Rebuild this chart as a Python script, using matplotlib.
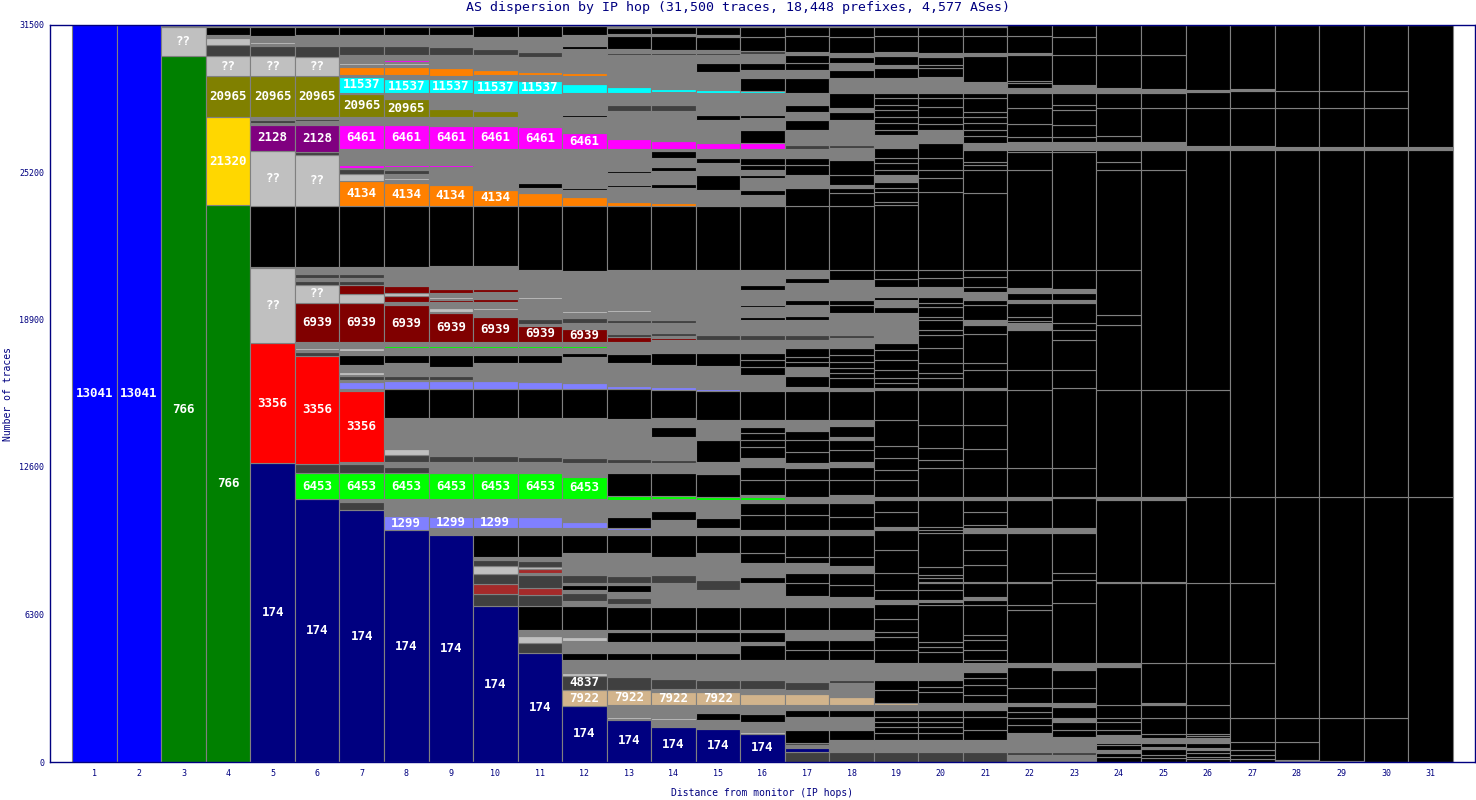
import numpy as np
import matplotlib
matplotlib.use('Agg')
import matplotlib.pyplot as plt

plt.rcParams['font.family'] = ['DejaVu Sans Mono']

# colour codes used in the stacks
palette = {
    'B': '#0000FF', 'g': '#008000', 'Y': '#FFD700', 'O': '#808000',
    'L': '#C0C0C0', 'D': '#404040', 'G': '#808080', 'K': '#000000',
    'N': '#000080', 'R': '#FF0000', 'M': '#800000', 'P': '#800080',
    'm': '#FF00FF', 'c': '#00FFFF', 'o': '#FF8000', 'l': '#00FF00',
    'p': '#8080FF', 't': '#D2B48C', 'r': '#A52A2A',
}

hops = list(range(1, 32))

# each hop: (cumulative top in traces, colour code[, AS label]) from bottom to top
hop1 = [(31500, 'B', '13041')]
hop2 = [(31500, 'B', '13041')]
hop3 = [(30153, 'g', '766'), (31405, 'L', '??'), (31500, 'G')]
hop4 = [(23789, 'g', '766'), (27535, 'Y', '21320'), (29299, 'O', '20965'), (30153, 'L', '??'),
        (30623, 'D'), (30935, 'L'), (31064, 'G'), (31405, 'K'), (31500, 'G')]
hop5 = [(12770, 'N', '174'), (17883, 'R', '3356'), (21086, 'L', '??'), (21141, 'l'), (23760, 'K'),
        (26109, 'L', '??'), (27206, 'P', '2128'), (27290, 'G'), (27420, 'D'), (27535, 'G'),
        (29299, 'O', '20965'), (30153, 'L', '??'), (30593, 'D'), (30680, 'G'), (30751, 'L'),
        (31007, 'G'), (31405, 'K'), (31500, 'G')]
hop6 = [(11220, 'N', '174'), (12330, 'l', '6453'), (12728, 'D'), (17353, 'R', '3356'), (17524, 'D'),
        (17597, 'G'), (17682, 'L'), (17725, 'l'), (17925, 'G'), (19617, 'M', '6939'), (20373, 'L', '??'),
        (20544, 'D'), (20672, 'G'), (20842, 'D'), (21154, 'G'), (23760, 'K'), (25925, 'L', '??'),
        (26066, 'D'), (27206, 'P', '2128'), (27377, 'G'), (27484, 'D'), (27535, 'G'),
        (29299, 'O', '20965'), (30123, 'L', '??'), (30593, 'D'), (31050, 'G'), (31405, 'K'), (31500, 'G')]
hop7 = [(10763, 'N', '174'), (11105, 'D'), (11233, 'G'), (12330, 'l', '6453'), (12728, 'D'), (12813, 'G'),
        (15845, 'R', '3356'), (15918, 'G'), (16243, 'p'), (16315, 'G'), (16486, 'D'), (16528, 'G'),
        (16670, 'L'), (16956, 'G'), (17383, 'K'), (17447, 'R'), (17554, 'G'), (17669, 'L'), (17725, 'l'),
        (17951, 'G'), (19604, 'M', '6939'), (19988, 'L'), (20373, 'M'), (20544, 'D'), (20672, 'G'),
        (20842, 'D'), (21154, 'G'), (23760, 'K'), (24815, 'o', '4134'), (25113, 'L'), (25314, 'D'),
        (25382, 'G'), (25498, 'm'), (26169, 'G'), (27206, 'm', '6461'), (27548, 'G'),
        (28530, 'O', '20965'), (28586, 'G'), (29269, 'c', '11537'), (29342, 'G'), (29671, 'o'),
        (29757, 'G'), (29842, 'L'), (29940, 'G'), (29982, 'm'), (30196, 'G'), (30593, 'D'),
        (31050, 'G'), (31405, 'K'), (31500, 'G')]
hop8 = [(9909, 'N', '174'), (10507, 'p', '1299'), (11233, 'G'), (12330, 'l', '6453'), (12600, 'D'),
        (12813, 'G'), (13112, 'D'), (13368, 'L'), (14692, 'G'), (15918, 'K'), (16272, 'p'), (16315, 'G'),
        (16498, 'D'), (17041, 'G'), (17383, 'K'), (17700, 'G'), (17760, 'l'), (17951, 'G'),
        (19518, 'M', '6939'), (19660, 'G'), (19903, 'M'), (20018, 'L'), (20343, 'M'), (21140, 'G'),
        (23760, 'K'), (24716, 'o', '4134'), (24857, 'G'), (24957, 'L'), (25113, 'G'), (25284, 'D'),
        (25400, 'G'), (25497, 'm'), (26167, 'G'), (27207, 'm', '6461'), (27548, 'G'),
        (28317, 'O', '20965'), (28573, 'G'), (29158, 'c', '11537'), (29342, 'G'), (29671, 'o'),
        (29769, 'G'), (29842, 'L'), (29910, 'G'), (29982, 'm'), (30196, 'G'), (30593, 'D'),
        (31050, 'G'), (31405, 'K'), (31500, 'G')]
hop9 = [(9695, 'N', '174'), (9980, 'G'), (10477, 'p', '1299'), (11233, 'G'), (12330, 'l', '6453'),
        (12813, 'G'), (13070, 'D'), (13155, 'G'), (13210, 'L'), (14692, 'G'), (15918, 'K'), (16272, 'p'),
        (16315, 'G'), (16498, 'D'), (16883, 'G'), (17383, 'K'), (17700, 'G'), (17760, 'l'), (17951, 'G'),
        (19162, 'M', '6939'), (19205, 'G'), (19391, 'L'), (19660, 'G'), (19732, 'M'), (19760, 'G'),
        (19875, 'L'), (20045, 'G'), (20188, 'M'), (21184, 'G'), (23760, 'K'), (24644, 'o', '4134'),
        (25400, 'G'), (25497, 'm'), (26167, 'G'), (27178, 'm', '6461'), (27548, 'G'), (27890, 'O'),
        (28573, 'G'), (29158, 'c', '11537'), (29300, 'G'), (29626, 'o'), (30196, 'G'), (30550, 'D'),
        (31050, 'G'), (31405, 'K'), (31500, 'G')]
hop10 = [(6663, 'N', '174'), (7175, 'D'), (7602, 'r'), (8029, 'D'), (8371, 'L'), (8627, 'D'), (8770, 'G'),
         (9695, 'K'), (9980, 'G'), (10477, 'p', '1299'), (11233, 'G'), (12330, 'l', '6453'), (12813, 'G'),
         (13070, 'D'), (14692, 'G'), (15918, 'K'), (16272, 'p'), (17041, 'G'), (17383, 'K'), (17700, 'G'),
         (17760, 'l'), (17951, 'G'), (19020, 'M', '6939'), (19305, 'G'), (19391, 'L'), (19660, 'G'),
         (19760, 'M'), (19830, 'L'), (20074, 'G'), (20186, 'M'), (21184, 'G'), (23760, 'K'),
         (24430, 'o', '4134'), (26167, 'G'), (27150, 'm', '6461'), (27548, 'G'), (27805, 'O'),
         (28530, 'G'), (29128, 'c', '11537'), (29342, 'G'), (29555, 'o'), (30196, 'G'), (30453, 'D'),
         (30965, 'G'), (31450, 'K'), (31500, 'G')]
hop11 = [(4643, 'N', '174'), (5095, 'D'), (5382, 'L'), (5638, 'G'), (6649, 'K'), (7154, 'D'), (7446, 'r'),
         (7987, 'D'), (8060, 'G'), (8243, 'r'), (8350, 'L'), (8597, 'D'), (8770, 'G'), (9695, 'K'),
         (9980, 'G'), (10477, 'p'), (11233, 'G'), (12330, 'l', '6453'), (12813, 'G'), (13040, 'D'),
         (14692, 'G'), (15918, 'K'), (16243, 'p'), (17041, 'G'), (17383, 'K'), (17700, 'G'), (17760, 'l'),
         (17951, 'G'), (18622, 'M', '6939'), (18707, 'G'), (18908, 'D'), (19775, 'G'), (19860, 'L'),
         (21013, 'G'), (23760, 'K'), (24290, 'o'), (24516, 'G'), (24730, 'K'), (26167, 'G'),
         (27107, 'm', '6461'), (28530, 'G'), (29085, 'c', '11537'), (29342, 'G'), (29484, 'o'),
         (30125, 'G'), (30324, 'D'), (30965, 'G'), (31450, 'K'), (31500, 'G')]
hop12 = [(2392, 'N', '174'), (3075, 't', '7922'), (3686, 'D', '4837'), (3810, 'L'), (4356, 'G'), (4656, 'K'),
         (5168, 'G'), (5325, 'L'), (5638, 'G'), (6649, 'K'), (6860, 'G'), (7218, 'D'), (7346, 'G'),
         (7560, 'K'), (7630, 'G'), (7987, 'D'), (8913, 'G'), (9695, 'K'), (9980, 'G'), (10265, 'p'),
         (11233, 'G'), (12186, 'l', '6453'), (12770, 'G'), (12970, 'D'), (14692, 'G'), (15918, 'K'),
         (16170, 'p'), (17300, 'G'), (17480, 'K'), (17700, 'G'), (17760, 'l'), (17951, 'G'),
         (18494, 'M', '6939'), (18750, 'G'), (18950, 'D'), (19177, 'G'), (19262, 'L'), (20977, 'G'),
         (23760, 'K'), (24145, 'o'), (24430, 'G'), (24516, 'K'), (26167, 'G'), (26850, 'm', '6461'),
         (27548, 'G'), (27633, 'K'), (28590, 'G'), (28957, 'c'), (29300, 'G'), (29420, 'o'), (30453, 'G'),
         (30580, 'K'), (31050, 'G'), (31450, 'K'), (31500, 'G')]
hop13 = [(1794, 'N', '174'), (1850, 'G'), (1936, 'L'), (2435, 'G'), (3075, 't', '7922'), (3630, 'D'),
         (3716, 'G'), (3780, 'L'), (4356, 'G'), (4656, 'K'), (5125, 'G'), (5560, 'K'), (5638, 'G'),
         (6620, 'K'), (6749, 'G'), (7004, 'D'), (7260, 'G'), (7560, 'K'), (7650, 'G'), (7950, 'D'),
         (8913, 'G'), (9695, 'K'), (9924, 'G'), (10010, 'p'), (10450, 'K'), (11200, 'G'), (11361, 'l'),
         (12330, 'K'), (12770, 'G'), (12928, 'D'), (14650, 'G'), (15918, 'K'), (16080, 'p'), (17055, 'G'),
         (17440, 'K'), (17951, 'G'), (18164, 'M'), (18280, 'D'), (18736, 'G'), (18878, 'D'), (19205, 'G'),
         (19290, 'L'), (21013, 'G'), (23760, 'K'), (23932, 'o'), (24560, 'G'), (24644, 'K'), (25160, 'G'),
         (25240, 'K'), (26167, 'G'), (26608, 'm'), (27800, 'G'), (28060, 'D'), (28573, 'G'), (28830, 'c'),
         (30196, 'G'), (30300, 'D'), (30453, 'G'), (31010, 'K'), (31095, 'G'), (31350, 'K'), (31500, 'G')]
hop14 = [(1508, 'N', '174'), (1794, 'G'), (1870, 'L'), (2435, 'G'), (3004, 't', '7922'), (3110, 'G'),
         (3545, 'D'), (4356, 'G'), (4656, 'K'), (5125, 'G'), (5560, 'K'), (5638, 'G'), (6620, 'K'),
         (7630, 'G'), (7987, 'D'), (8770, 'G'), (9695, 'K'), (10336, 'G'), (10700, 'K'), (11233, 'G'),
         (11361, 'l'), (12330, 'K'), (12770, 'G'), (12900, 'D'), (13880, 'G'), (14300, 'K'), (14692, 'G'),
         (15888, 'K'), (16030, 'p'), (16940, 'G'), (17490, 'K'), (18040, 'G'), (18110, 'M'), (18200, 'G'),
         (18310, 'D'), (18736, 'G'), (18878, 'D'), (21013, 'G'), (23760, 'K'), (23860, 'o'), (24500, 'G'),
         (24700, 'K'), (25250, 'G'), (25400, 'K'), (25800, 'G'), (26090, 'K'), (26167, 'G'), (26522, 'm'),
         (27806, 'G'), (28060, 'D'), (28600, 'G'), (28745, 'c'), (30196, 'G'), (30300, 'D'), (30400, 'G'),
         (31030, 'K'), (31095, 'G'), (31400, 'K'), (31500, 'G')]
hop15 = [(1409, 'N', '174'), (1794, 'G'), (2100, 'K'), (2435, 'G'), (2977, 't', '7922'), (3105, 'G'),
         (3502, 'D'), (4356, 'G'), (4656, 'K'), (5125, 'G'), (5552, 'K'), (5638, 'G'), (6620, 'K'),
         (7346, 'G'), (7773, 'D'), (8913, 'G'), (9695, 'K'), (9994, 'G'), (10421, 'K'), (11190, 'G'),
         (11340, 'l'), (12300, 'K'), (12813, 'G'), (13753, 'K'), (14607, 'G'), (15858, 'K'), (15950, 'p'),
         (16913, 'G'), (17468, 'K'), (18024, 'G'), (18237, 'D'), (21013, 'G'), (23760, 'K'), (24430, 'G'),
         (25070, 'K'), (25570, 'G'), (25784, 'K'), (26169, 'G'), (26425, 'm'), (27420, 'G'), (27633, 'K'),
         (28573, 'G'), (28701, 'c'), (29483, 'G'), (29842, 'K'), (30196, 'G'), (30294, 'D'), (30410, 'G'),
         (30978, 'K'), (31050, 'G'), (31405, 'K'), (31500, 'G')]
hop16 = [(1196, 'N', '174'), (1294, 'L'), (1700, 'G'), (2050, 'K'), (2435, 'G'), (2904, 't'), (3105, 'G'),
         (3502, 'D'), (4356, 'G'), (4997, 'K'), (5125, 'G'), (5552, 'K'), (5638, 'G'), (6620, 'K'),
         (7632, 'G'), (7914, 'K'), (8500, 'G'), (8926, 'K'), (9695, 'K'), (9909, 'G'), (10550, 'K'),
         (11062, 'K'), (11190, 'G'), (11318, 'l'), (11404, 'G'), (12044, 'K'), (12612, 'K'), (12971, 'G'),
         (13467, 'K'), (13753, 'K'), (14052, 'K'), (14321, 'K'), (14607, 'G'), (15858, 'K'), (16528, 'G'),
         (16883, 'K'), (17170, 'K'), (17469, 'K'), (18024, 'G'), (18237, 'D'), (18878, 'G'), (19006, 'K'),
         (19433, 'G'), (19518, 'K'), (20159, 'G'), (20373, 'K'), (21013, 'G'), (23760, 'K'), (24216, 'G'),
         (24430, 'K'), (24942, 'G'), (25070, 'K'), (25284, 'G'), (25498, 'K'), (25784, 'K'), (26169, 'G'),
         (26425, 'm'), (26993, 'K'), (27505, 'G'), (27633, 'K'), (28586, 'G'), (28671, 'c'), (29201, 'K'),
         (29555, 'G'), (29855, 'K'), (30239, 'G'), (30380, 'D'), (30978, 'K'), (31405, 'K'), (31500, 'G')]
hop17 = [(440, 'D'), (598, 'N'), (726, 'G'), (811, 'D'), (1367, 'K'), (1922, 'G'), (2221, 'K'), (2435, 'G'),
         (2904, 't'), (3075, 'G'), (3430, 'D'), (4356, 'G'), (4784, 'K'), (5211, 'K'), (5638, 'G'),
         (6620, 'K'), (7090, 'G'), (7645, 'K'), (8072, 'K'), (8500, 'G'), (8768, 'K'), (9695, 'K'),
         (9909, 'G'), (10550, 'K'), (11062, 'K'), (11275, 'G'), (11340, 'l'), (12044, 'K'), (12557, 'K'),
         (12770, 'G'), (13253, 'K'), (13753, 'K'), (14137, 'K'), (14607, 'G'), (15858, 'K'), (16029, 'G'),
         (16486, 'K'), (16883, 'G'), (17097, 'K'), (17311, 'K'), (17682, 'K'), (18024, 'G'), (18237, 'D'),
         (18878, 'G'), (19049, 'K'), (19518, 'G'), (19732, 'K'), (20458, 'G'), (20672, 'K'), (21013, 'G'),
         (23760, 'K'), (24516, 'K'), (25070, 'G'), (25498, 'K'), (25784, 'K'), (26169, 'G'), (26352, 'D'),
         (26993, 'G'), (27420, 'K'), (27762, 'G'), (28061, 'K'), (28573, 'G'), (29213, 'K'), (29555, 'G'),
         (29855, 'K'), (30196, 'K'), (30337, 'G'), (31007, 'K'), (31405, 'K'), (31500, 'G')]
hop18 = [(440, 'D'), (513, 'G'), (568, 'N'), (940, 'G'), (1367, 'K'), (1935, 'G'), (2221, 'K'), (2435, 'G'),
         (2789, 't'), (3374, 'G'), (3502, 'D'), (4356, 'G'), (4784, 'K'), (5211, 'K'), (5638, 'G'),
         (6620, 'K'), (7047, 'G'), (7560, 'K'), (8072, 'K'), (8371, 'G'), (8768, 'K'), (9695, 'K'),
         (9909, 'G'), (10464, 'K'), (11062, 'K'), (11404, 'G'), (12044, 'K'), (12600, 'K'), (12813, 'G'),
         (13326, 'K'), (13753, 'K'), (13881, 'G'), (14351, 'K'), (14607, 'G'), (15858, 'K'), (15973, 'G'),
         (16400, 'K'), (16614, 'K'), (16828, 'K'), (17097, 'K'), (17383, 'K'), (17682, 'K'), (18109, 'G'),
         (18237, 'D'), (19177, 'G'), (19518, 'K'), (19732, 'K'), (20586, 'G'), (21013, 'K'), (23760, 'K'),
         (24302, 'K'), (24516, 'K'), (24644, 'G'), (25070, 'K'), (25711, 'K'), (26224, 'G'), (26352, 'D'),
         (27420, 'G'), (27762, 'K'), (27933, 'G'), (28560, 'K'), (29213, 'G'), (29555, 'K'), (29855, 'G'),
         (30124, 'K'), (30269, 'G'), (30965, 'K'), (31405, 'K'), (31500, 'G')]
hop19 = [(440, 'D'), (513, 'G'), (568, 'N'), (940, 'G'), (1239, 'K'), (1495, 'K'), (1708, 'K'), (1922, 'K'),
         (2221, 'K'), (2440, 'G'), (2520, 't'), (3075, 'K'), (3502, 'K'), (3630, 'G'), (4228, 'G'),
         (4784, 'K'), (5339, 'K'), (5552, 'K'), (6108, 'K'), (6748, 'K'), (6919, 'G'), (7346, 'K'),
         (8072, 'K'), (9055, 'K'), (9909, 'K'), (10050, 'G'), (10690, 'K'), (11190, 'K'), (11331, 'G'),
         (12044, 'K'), (12471, 'K'), (12984, 'K'), (13497, 'K'), (14607, 'K'), (15888, 'K'), (15973, 'G'),
         (16187, 'K'), (16400, 'K'), (16742, 'K'), (17169, 'K'), (17597, 'K'), (17883, 'K'), (19164, 'G'),
         (19446, 'K'), (19732, 'G'), (19873, 'K'), (20301, 'G'), (20629, 'K'), (21013, 'K'), (23789, 'K'),
         (23930, 'K'), (24357, 'K'), (24503, 'K'), (24785, 'K'), (25070, 'G'), (25284, 'K'), (25570, 'K'),
         (25784, 'K'), (26211, 'K'), (26780, 'G'), (26993, 'K'), (27278, 'K'), (27562, 'K'), (27847, 'K'),
         (28061, 'K'), (28347, 'K'), (28560, 'K'), (29201, 'G'), (29628, 'K'), (29769, 'G'), (30153, 'K'),
         (30337, 'G'), (31007, 'K'), (31405, 'K'), (31500, 'G')]
hop20 = [(440, 'D'), (940, 'G'), (1239, 'K'), (1495, 'K'), (1708, 'K'), (1935, 'K'), (2221, 'K'), (2520, 'G'),
         (2990, 'K'), (3203, 'K'), (3502, 'K'), (3716, 'G'), (4228, 'G'), (4698, 'K'), (4912, 'K'),
         (5125, 'K'), (6705, 'K'), (6846, 'K'), (6919, 'G'), (7346, 'K'), (7632, 'K'), (7700, 'G'),
         (7846, 'K'), (7987, 'K'), (8341, 'K'), (9768, 'K'), (9909, 'K'), (10050, 'K'), (11190, 'K'),
         (11331, 'G'), (12557, 'K'), (12898, 'K'), (13411, 'K'), (14393, 'K'), (15888, 'K'), (15973, 'G'),
         (16400, 'K'), (16614, 'K'), (17041, 'K'), (17682, 'K'), (18237, 'K'), (18451, 'K'), (18878, 'K'),
         (19019, 'K'), (19446, 'K'), (19591, 'K'), (19873, 'K'), (20301, 'G'), (20659, 'K'), (21013, 'K'),
         (24330, 'K'), (24956, 'K'), (25284, 'K'), (25784, 'K'), (26425, 'K'), (26993, 'G'), (27249, 'K'),
         (27535, 'K'), (27988, 'K'), (28347, 'K'), (28560, 'K'), (29201, 'G'), (29270, 'K'), (29628, 'K'),
         (29769, 'K'), (30124, 'K'), (30269, 'G'), (31007, 'K'), (31405, 'K'), (31500, 'G')]
hop21 = [(440, 'D'), (940, 'G'), (1367, 'K'), (1935, 'K'), (2221, 'K'), (2507, 'G'), (2862, 'K'), (3289, 'K'),
         (3575, 'K'), (3857, 'K'), (4216, 'G'), (4356, 'K'), (4784, 'K'), (5211, 'K'), (5424, 'K'),
         (6705, 'K'), (6919, 'K'), (7034, 'G'), (7632, 'K'), (7700, 'K'), (8414, 'K'), (9055, 'K'),
         (9781, 'K'), (9981, 'G'), (10122, 'K'), (10678, 'K'), (11190, 'K'), (11331, 'G'), (12544, 'K'),
         (13368, 'K'), (14393, 'K'), (15888, 'K'), (15960, 'G'), (16742, 'K'), (17030, 'K'), (18280, 'K'),
         (18664, 'K'), (18878, 'G'), (19518, 'K'), (19732, 'K'), (20087, 'G'), (20301, 'K'), (20702, 'K'),
         (21013, 'K'), (24288, 'K'), (25284, 'K'), (25498, 'K'), (25640, 'K'), (26139, 'K'), (26425, 'G'),
         (26737, 'K'), (26993, 'K'), (27278, 'K'), (27548, 'K'), (27775, 'K'), (28347, 'K'), (28560, 'K'),
         (29056, 'G'), (30153, 'K'), (30269, 'G'), (31007, 'K'), (31405, 'K'), (31500, 'G')]
hop22 = [(299, 'G'), (440, 'D'), (1226, 'G'), (1580, 'K'), (1866, 'K'), (2135, 'K'), (2392, 'K'), (2507, 'G'),
         (3160, 'K'), (4070, 'K'), (4216, 'G'), (6492, 'K'), (6705, 'K'), (7632, 'K'), (7700, 'G'),
         (9768, 'K'), (9981, 'G'), (11190, 'K'), (11331, 'G'), (12544, 'K'), (15888, 'K'), (16742, 'K'),
         (18451, 'K'), (18737, 'G'), (18848, 'K'), (19020, 'K'), (19617, 'K'), (19732, 'G'), (20017, 'K'),
         (20231, 'G'), (21013, 'K'), (25284, 'K'), (26066, 'K'), (26139, 'K'), (26493, 'G'), (26706, 'K'),
         (27236, 'K'), (27920, 'K'), (28560, 'K'), (28774, 'G'), (29013, 'K'), (29099, 'K'), (30196, 'K'),
         (30269, 'G'), (31007, 'K'), (31478, 'K'), (31500, 'G')]
hop23 = [(299, 'G'), (440, 'D'), (1081, 'G'), (1367, 'K'), (1721, 'K'), (1866, 'G'), (2362, 'K'), (2507, 'G'),
         (3148, 'K'), (3929, 'K'), (4216, 'G'), (6778, 'K'), (7773, 'K'), (8059, 'K'), (9768, 'K'),
         (9981, 'G'), (11263, 'K'), (11331, 'G'), (12544, 'K'), (15960, 'K'), (16742, 'K'), (18024, 'K'),
         (18451, 'K'), (18737, 'K'), (19617, 'K'), (19732, 'G'), (20017, 'K'), (20188, 'G'), (21013, 'K'),
         (26066, 'K'), (26139, 'K'), (26493, 'G'), (26706, 'K'), (27206, 'K'), (27847, 'K'), (28061, 'K'),
         (28560, 'K'), (28914, 'G'), (30196, 'K'), (30978, 'K'), (31478, 'K'), (31500, 'G')]
hop24 = [(226, 'K'), (397, 'K'), (513, 'G'), (726, 'K'), (799, 'K'), (1153, 'G'), (1367, 'K'), (1721, 'K'),
         (1866, 'K'), (2435, 'K'), (4070, 'K'), (4216, 'G'), (7632, 'K'), (7700, 'G'), (11190, 'K'),
         (11331, 'G'), (15888, 'K'), (18664, 'K'), (19091, 'K'), (21013, 'K'), (25284, 'K'), (25640, 'K'),
         (26139, 'K'), (26493, 'G'), (26737, 'K'), (27920, 'K'), (28560, 'K'), (28774, 'G'), (30196, 'K'),
         (31478, 'K'), (31500, 'G')]
hop25 = [(158, 'K'), (299, 'K'), (542, 'K'), (654, 'G'), (799, 'K'), (1012, 'G'), (1183, 'K'), (1866, 'K'),
         (2435, 'K'), (2507, 'G'), (4216, 'K'), (7632, 'K'), (7700, 'G'), (11190, 'K'), (11331, 'G'),
         (15888, 'K'), (25284, 'K'), (26139, 'K'), (26493, 'G'), (27920, 'K'), (28560, 'K'), (28730, 'G'),
         (30196, 'K'), (31478, 'K'), (31500, 'G')]
hop26 = [(115, 'K'), (226, 'K'), (372, 'K'), (513, 'K'), (585, 'G'), (799, 'K'), (1012, 'G'), (1123, 'K'),
         (1183, 'K'), (1866, 'K'), (2435, 'K'), (4216, 'K'), (7632, 'K'), (11318, 'K'), (15888, 'K'),
         (26139, 'K'), (26310, 'G'), (27920, 'K'), (28616, 'K'), (28689, 'G'), (31478, 'K'), (31500, 'G')]
hop27 = [(115, 'K'), (299, 'K'), (513, 'K'), (867, 'K'), (1866, 'K'), (4216, 'K'), (7645, 'K'), (11318, 'K'),
         (26139, 'K'), (26310, 'G'), (27920, 'K'), (28643, 'K'), (28744, 'G'), (31478, 'K'), (31500, 'G')]
hop28 = [(85, 'G'), (840, 'K'), (1866, 'K'), (11318, 'K'), (26139, 'K'), (26250, 'G'), (27920, 'K'),
         (28643, 'K'), (31478, 'K'), (31500, 'G')]
hop29 = [(55, 'G'), (1866, 'K'), (11318, 'K'), (26139, 'K'), (26250, 'G'), (27920, 'K'), (28643, 'K'),
         (31478, 'K'), (31500, 'G')]
hop30 = [(1866, 'K'), (11318, 'K'), (26139, 'K'), (26250, 'G'), (27920, 'K'), (28643, 'K'), (31478, 'K'),
         (31500, 'G')]
hop31 = [(11318, 'K'), (26139, 'K'), (26250, 'G'), (31478, 'K'), (31500, 'G')]

stacks = [hop1, hop2, hop3, hop4, hop5, hop6, hop7, hop8, hop9, hop10, hop11, hop12, hop13, hop14, hop15,
          hop16, hop17, hop18, hop19, hop20, hop21, hop22, hop23, hop24, hop25, hop26, hop27, hop28, hop29,
          hop30, hop31]

y_ticks = [0, 6300, 12600, 18900, 25200, 31500]
navy = '#000080'

fig = plt.figure(figsize=(14.76, 8), dpi=100)
ax = fig.add_axes([50 / 1476, 38 / 800, 1425 / 1476, 737.5 / 800])

for hop, segs in zip(hops, stacks):
    tops = np.array([s[0] for s in segs], dtype=float)
    bottoms = np.concatenate([[0], tops[:-1]])
    heights = tops - bottoms
    cols = [palette[s[1]] for s in segs]
    ax.bar(np.full(len(segs), hop), heights, bottom=bottoms, width=1, color=cols,
           edgecolor='#808080', linewidth=0.8)
    for s, b, h in zip(segs, bottoms, heights):
        if len(s) > 2:
            ax.text(hop, b + h / 2, s[2], ha='center', va='center', color='white',
                    fontsize=9, fontweight='bold')

ax.set_xlim(0, 32)
ax.set_ylim(0, 31500)
ax.set_xticks(hops)
ax.set_xticklabels([str(h) for h in hops])
ax.set_yticks(y_ticks)
ax.set_yticklabels([str(t) for t in y_ticks])
ax.tick_params(length=0, colors=navy, labelsize=6)
ax.tick_params(axis='x', pad=5)
ax.tick_params(axis='y', pad=4)
for sp in ax.spines.values():
    sp.set_color(navy)
    sp.set_linewidth(1)

fig.text(0.5, 1 - 8 / 800, 'AS dispersion by IP hop (31,500 traces, 18,448 prefixes, 4,577 ASes)',
         ha='center', va='center', color=navy, fontsize=9.5)
fig.text(8 / 1476, 1 - 394 / 800, 'Number of traces', rotation=90, ha='center', va='center',
         color=navy, fontsize=7)
fig.text(762 / 1476, 1 - 793 / 800, 'Distance from monitor (IP hops)', ha='center', va='center',
         color=navy, fontsize=7)

fig.savefig('out.png', dpi=100)
